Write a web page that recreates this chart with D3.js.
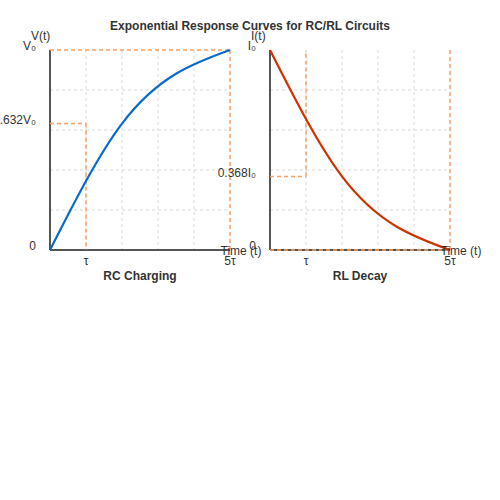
<!DOCTYPE html>
<html>
<head>
<meta charset="utf-8">
<script src="https://cdn.jsdelivr.net/npm/d3@7"></script>
<style>
  body { margin: 0; background: #fff; }
  text { font-family: "Liberation Sans", Arial, sans-serif; }
</style>
</head>
<body>
<svg id="chart" width="500" height="500"></svg>
<script>
// data: time in units of tau, value normalised to V0 / I0
const chargeT = [0, 2, 5];
const chargeV = [0, 0.632, 1];
const decayT = [0, 2, 5];
const decayI = [1, 0.368, 0];
const xTickVals = [1, 5];
const xTickLabels = ["τ", "5τ"];
const chargeTicks = [0, 0.632, 1];
const chargeTickLabels = ["0", "0.632V₀", "V₀"];
const decayTicks = [0, 0.368, 1];
const decayTickLabels = ["0", "0.368I₀", "I₀"];

const svg = d3.select("#chart");
const orange = "#fa9f62";

svg.append("text")
  .attr("x", 250).attr("y", 30)
  .attr("text-anchor", "middle")
  .attr("font-size", 12).attr("font-weight", "bold")
  .attr("fill", "#333")
  .text("Exponential Response Curves for RC/RL Circuits");

function panel(opts) {
  const w = 180, h = 200;
  const g = svg.append("g").attr("transform", `translate(${opts.left},50)`);
  const x = d3.scaleLinear().domain([0, 5]).range([0, w]);
  const y = d3.scaleLinear().domain([0, 1]).range([h, 0]);

  // grid
  const grid = g.append("g").attr("stroke", "#e6e6e6").attr("stroke-width", 1.5)
    .attr("stroke-dasharray", "3,3");
  grid.selectAll("line.v").data([1, 2, 3, 4]).join("line")
    .attr("x1", d => x(d)).attr("x2", d => x(d)).attr("y1", 0).attr("y2", h);
  grid.selectAll("line.h").data([0.2, 0.4, 0.6, 0.8]).join("line")
    .attr("class", "h")
    .attr("y1", d => y(d)).attr("y2", d => y(d)).attr("x1", 0).attr("x2", w);

  // axes
  g.append("line").attr("x1", 0).attr("x2", 0).attr("y1", 0).attr("y2", h)
    .attr("stroke", "#555").attr("stroke-width", 2);
  g.append("line").attr("x1", 0).attr("x2", w).attr("y1", h).attr("y2", h)
    .attr("stroke", "#555").attr("stroke-width", 2);

  // reference lines
  const ref = g.append("g").attr("stroke", orange).attr("stroke-width", 1.5)
    .attr("stroke-dasharray", "4,3").attr("fill", "none");
  opts.refs.forEach(r => {
    ref.append("line")
      .attr("x1", x(r[0])).attr("y1", y(r[1]))
      .attr("x2", x(r[2])).attr("y2", y(r[3]));
  });

  // curve
  const line = d3.line().x((d, i) => x(opts.t[i])).y(d => y(d)).curve(d3.curveMonotoneX);
  g.append("path").datum(opts.v)
    .attr("d", line).attr("fill", "none")
    .attr("stroke", opts.color).attr("stroke-width", 2.2);

  // y tick labels
  g.selectAll("text.yt").data(opts.ticks).join("text")
    .attr("class", "yt")
    .attr("x", -14).attr("y", d => y(d) - 4)
    .attr("dy", "0.35em")
    .attr("text-anchor", "end")
    .attr("font-size", 12).attr("fill", "#333")
    .text((d, i) => opts.tickLabels[i]);

  // x tick labels
  g.selectAll("text.xt").data(xTickVals).join("text")
    .attr("class", "xt")
    .attr("x", d => x(d)).attr("y", h + 15)
    .attr("text-anchor", "middle")
    .attr("font-size", 12).attr("fill", "#333")
    .text((d, i) => xTickLabels[i]);

  // axis labels
  g.append("text").attr("x", w + 11).attr("y", h + 5)
    .attr("text-anchor", "middle").attr("font-size", 12).attr("fill", "#333")
    .text("Time (t)");
  g.append("text").attr("x", -19).attr("y", -10)
    .attr("font-size", 12).attr("fill", "#333")
    .text(opts.yLabel);

  g.append("text").attr("x", w / 2).attr("y", h + 30)
    .attr("text-anchor", "middle").attr("font-size", 12)
    .attr("font-weight", "bold").attr("fill", "#333")
    .text(opts.title);
}

panel({
  left: 50, t: chargeT, v: chargeV, color: "#0a6acb",
  ticks: chargeTicks, tickLabels: chargeTickLabels,
  yLabel: "V(t)", title: "RC Charging",
  refs: [[0, 0.632, 1, 0.632], [1, 0.632, 1, 0], [0, 1, 5, 1], [5, 1, 5, 0]]
});
panel({
  left: 270, t: decayT, v: decayI, color: "#cc3300",
  ticks: decayTicks, tickLabels: decayTickLabels,
  yLabel: "I(t)", title: "RL Decay",
  refs: [[0, 0.368, 1, 0.368], [1, 0.368, 1, 1], [0, 0, 5, 0], [5, 0, 5, 1]]
});
</script>
</body>
</html>
